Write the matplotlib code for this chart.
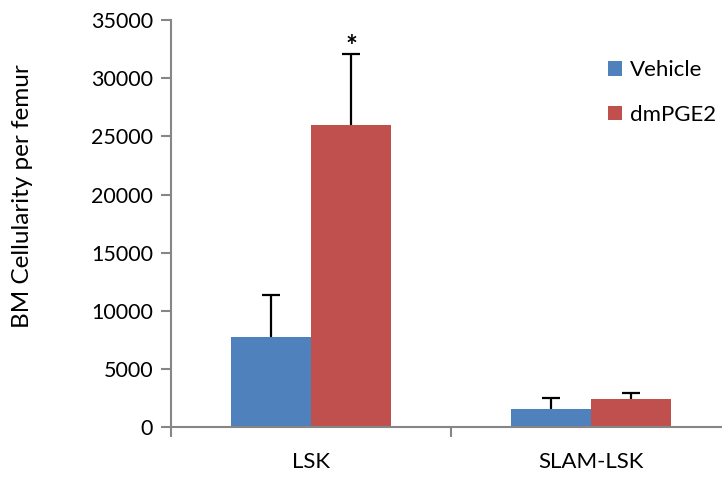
import numpy as np
import matplotlib
matplotlib.use('Agg')
import matplotlib.pyplot as plt

plt.rcParams['font.family'] = ['Lato', 'DejaVu Sans']

# celulas por femur
categorias = ['LSK', 'SLAM-LSK']
vehicle = [7800, 1550]
vehicle_err = [3600, 950]
dmpge2 = [26000, 2400]
dmpge2_err = [6100, 580]

azul = '#4F81BD'
vermelho = '#C0504D'
cinza = '#868686'

fig = plt.figure(figsize=(7.22, 4.78), dpi=100)
ax = fig.add_axes([171 / 722, 1 - 427.3 / 478, 560 / 722, 407.3 / 478])

x = np.arange(len(categorias))
w = 80 / 280

ax.bar(x - w / 2, vehicle, w, color=azul, label='Vehicle')
ax.bar(x + w / 2, dmpge2, w, color=vermelho, label='dmPGE2')

# barras de erro so para cima
for pos, val, err in [(x - w / 2, vehicle, vehicle_err), (x + w / 2, dmpge2, dmpge2_err)]:
    topo = np.array(val) + np.array(err)
    ax.vlines(pos, val, topo, color='black', lw=1.6, zorder=3)
    ax.plot(pos, topo, ls='none', marker='_', ms=13, mew=1.6, color='black', zorder=3)

# asterisco de significancia
ax.text(x[0] + w / 2, dmpge2[0] + dmpge2_err[0] + 1700, '*',
        ha='center', va='top', fontsize=20, fontweight='bold')

ax.set_xlim(-0.5, 1.5)
ax.set_ylim(0, 35000)
ax.set_yticks(range(0, 35001, 5000))
ax.set_xticks([-0.5, 0.5, 1.5])
ax.set_xticklabels([])
ax.set_xticks(x, minor=True)
ax.set_xticklabels(categorias, minor=True)
ax.tick_params(axis='x', which='minor', length=0, pad=18, labelsize=16)
ax.tick_params(axis='x', which='major', length=7, width=1.5, color=cinza)
ax.tick_params(axis='y', length=7, width=1.5, color=cinza, labelsize=15.5, pad=6)

for lado in ['top', 'right']:
    ax.spines[lado].set_visible(False)
for lado in ['left', 'bottom']:
    ax.spines[lado].set_color(cinza)
    ax.spines[lado].set_linewidth(1.5)

ax.set_ylabel('BM Cellularity per femur', fontsize=17.5)
ax.yaxis.set_label_coords(-0.246, 0.568)

ax.legend(loc='upper left', bbox_to_anchor=(0.745, 0.95), frameon=False,
          fontsize=16, handlelength=0.6, handleheight=0.6,
          labelspacing=1.1, handletextpad=0.4)

plt.savefig('out.png', dpi=100)
